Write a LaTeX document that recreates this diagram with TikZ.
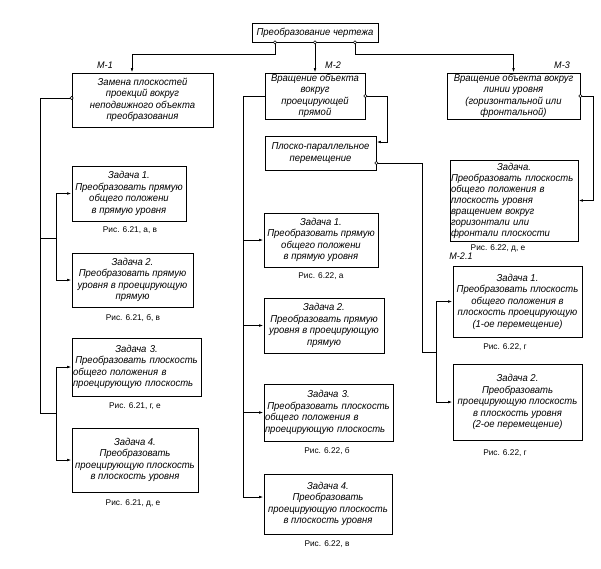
\documentclass[tikz,border=0pt]{standalone}
\usepackage{fontspec}
\setmainfont{Liberation Sans}
\newfontfamily\gost[FakeStretch=0.95]{Liberation Sans}
\usetikzlibrary{arrows.meta,calc}
\begin{document}
\begin{tikzpicture}[x=1pt,y=-1pt,
 box/.style={draw, line width=0.8pt, inner sep=1pt, font=\gost\itshape\fontsize{10}{11.5}\selectfont, align=center},
 lbox/.style={box, align=left},
 capt/.style={font=\fontsize{8.3}{9}\selectfont, inner sep=0pt},
 lab/.style={font=\gost\itshape\fontsize{9.5}{10}\selectfont, inner sep=0pt},
 con/.style={line width=0.8pt},
 arr/.style={con, -{Latex[length=4.5pt,width=2.6pt]}},
 dot/.style={circle, draw, fill=white, inner sep=0pt, minimum size=3.2pt, line width=0.6pt}]
\useasboundingbox[fill=white] (0,0) rectangle (601,568);

% top
\node[box, minimum width=126pt, minimum height=19pt] (T) at (315,32.5) {Преобразование чертежа};

% M boxes
\node[box, minimum width=141pt, minimum height=54pt] (M1) at (142.5,100) {Замена плоскостей\\проекций вокруг\\неподвижного объекта\\преобразования};
\node[box, minimum width=100pt, minimum height=46pt] (M2) at (315,96) {Вращение объекта\\вокруг\\проецирующей\\прямой};
\node[box, minimum width=133pt, minimum height=46pt] (M3) at (513.5,96) {Вращение объекта вокруг\\линии уровня\\(горизонтальной или\\фронтальной)};
\node[box, minimum width=111pt, minimum height=34pt] (P) at (320.5,153) {Плоско-параллельное\\перемещение};

\node[lab] (lm1) at (105,65) {М-1};
\node[lab] (lm2) at (333,65) {М-2};
\node[lab] (lm3) at (562,65) {М-3};
\node[lab] (lm21) at (461,256) {М-2.1};

% left column
\node[box, minimum width=114pt, minimum height=55pt] (L1) at (129,193.5) {Задача 1.\\Преобразовать прямую\\общего положени\\в прямую уровня};
\node[box, minimum width=121pt, minimum height=54pt] (L2) at (132.5,280) {Задача 2.\\Преобразовать прямую\\уровня в проецирующую\\прямую};
\node[lbox, text width=127pt, minimum height=58pt] (L3) at (136.5,367) {\makebox[\linewidth]{Задача 3.}\\\makebox[\linewidth]{Преобразовать плоскость}\\общего положения в\\проецирующую плоскость};
\node[box, minimum width=126pt, minimum height=64pt] (L4) at (135,460) {Задача 4.\\Преобразовать\\проецирующую плоскость\\в плоскость уровня};

\node[capt] (cl1) at (130,230) {Рис. 6.21, а, в};
\node[capt] (cl2) at (133,318) {Рис. 6.21, б, в};
\node[capt] (cl3) at (135,406) {Рис. 6.21, г, е};
\node[capt] (cl4) at (133,503) {Рис. 6.21, д, е};

% middle column
\node[box, minimum width=114pt, minimum height=54pt] (C1) at (321,240) {Задача 1.\\Преобразовать прямую\\общего положени\\в прямую уровня};
\node[box, minimum width=120pt, minimum height=55pt] (C2) at (324,325.5) {Задача 2.\\Преобразовать прямую\\уровня в проецирующую\\прямую};
\node[lbox, text width=127pt, minimum height=57pt] (C3) at (328.5,412.5) {\makebox[\linewidth]{Задача 3.}\\\makebox[\linewidth]{Преобразовать плоскость}\\общего положения в\\проецирующую плоскость};
\node[box, minimum width=128pt, minimum height=60pt] (C4) at (328,504) {Задача 4.\\Преобразовать\\проецирующую плоскость\\в плоскость уровня};

\node[capt] (cc1) at (321,276) {Рис. 6.22, а};
\node[capt] (cc3) at (327,451) {Рис. 6.22, б};
\node[capt] (cc4) at (327,544) {Рис. 6.22, в};

% right column
\node[lbox, text width=126pt, minimum height=81pt, font=\gost\itshape\fontsize{10}{11}\selectfont] (RT) at (514,200.5) {\makebox[\linewidth]{Задача.}\\Преобразовать плоскость\\общего положения в\\плоскость уровня\\вращением вокруг\\горизонтали или\\фронтали плоскости};
\node[box, minimum width=129pt, minimum height=71pt] (R1) at (517.5,301.5) {Задача 1.\\Преобразовать плоскость\\общего положения в\\плоскость проецирующую\\(1-ое перемещение)};
\node[box, minimum width=129pt, minimum height=76pt] (R2) at (517.5,402) {Задача 2.\\Преобразовать\\проецирующую плоскость\\в плоскость уровня\\(2-ое перемещение)};

\node[capt] (cr0) at (498,248) {Рис. 6.22, д, е};
\node[capt] (cr1) at (505,347) {Рис. 6.22, г};
\node[capt] (cr2) at (505,453) {Рис. 6.22, г};

% connectors from top
\coordinate (m1in) at ([xshift=-10.5pt]M1.north);
\draw[arr] ([xshift=-40pt]T.south) -- ++(0,12) -| (m1in);
\draw[arr] (T.south) -- (M2.north);
\draw[arr] ([xshift=40pt]T.south) -- ++(0,12) -| (M3.north);

% left column connectors
\coordinate (ls) at (40,413);
\coordinate (lbA) at (56,238);
\coordinate (lbB) at (56,413);
\draw[con] ([yshift=2pt]M1.west) -| (ls) -- (lbB);
\draw[con] (ls |- lbA) -- (lbA);
\draw[arr] (lbA) |- (L1.west);
\draw[arr] (lbA) |- (L2.west);
\draw[arr] (lbB) |- (L3.west);
\draw[arr] (lbB) |- (L4.west);

% middle column connectors
\coordinate (ms) at (243,497);
\draw[con] (M2.west) -| (ms);
\draw[arr] (ms |- C1.west) -- (C1.west);
\draw[arr] (ms |- C2.west) -- (C2.west);
\draw[arr] (ms |- C3.west) -- (C3.west);
\draw[arr] (ms) -- (ms -| C4.west);

% M2 -> P
\coordinate (pr) at (387,142);
\draw[arr] (M2.east) -| (pr) -- (pr -| P.east);

% P -> right tasks
\coordinate (pv) at (422,352);
\coordinate (rb) at (436,352);
\draw[con] ([yshift=-10pt]P.east) -| (pv) -- (rb);
\draw[arr] (rb) |- (R1.west);
\draw[arr] (rb) |- (R2.west);

% M3 -> RT
\coordinate (mr) at (593,200.5);
\draw[arr] (M3.east) -| (mr) -- (RT.east);

% small circles
\node[dot] (d1) at ([xshift=-40pt]T.south) {};
\node[dot] (d2) at (T.south) {};
\node[dot] (d3) at ([xshift=40pt]T.south) {};
\node[dot] (d4) at ([yshift=2pt]M1.west) {};
\node[dot] (d5) at (M2.east) {};
\node[dot] (d6) at ([yshift=-10pt]P.east) {};
\node[dot] (d7) at (M3.east) {};
\end{tikzpicture}
\end{document}
